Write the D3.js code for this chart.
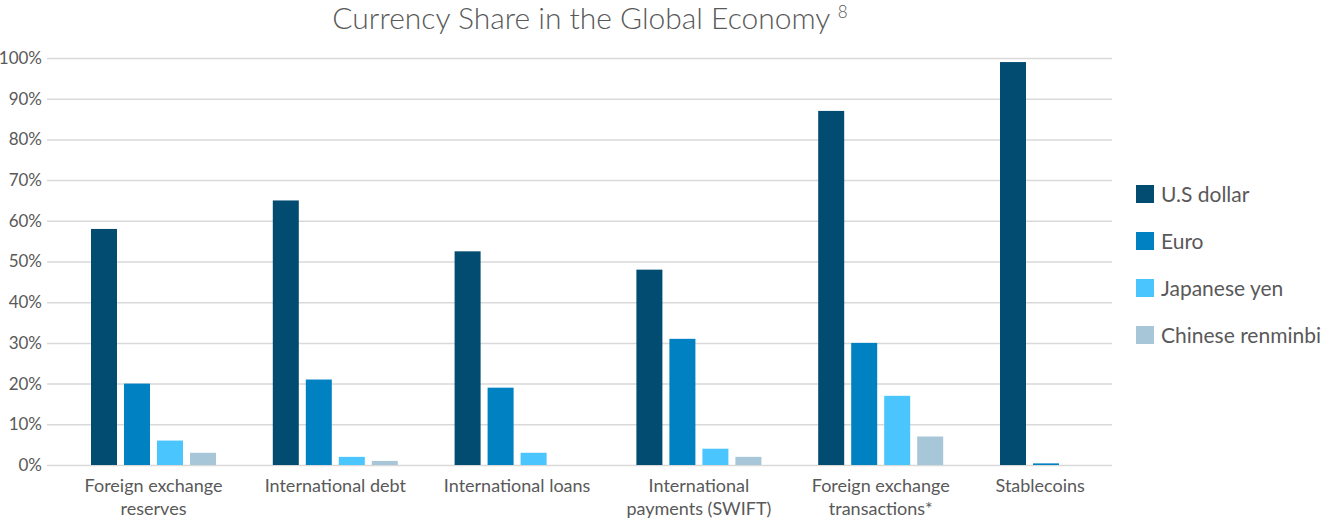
<!DOCTYPE html>
<html>
<head>
<meta charset="utf-8">
<script src="https://cdn.jsdelivr.net/npm/d3@7"></script>
<style>
  body { margin: 0; background: #fff; }
  svg text { font-family: Lato, "Open Sans", sans-serif; fill: #595959; }
</style>
</head>
<body>
<svg width="1329" height="519"></svg>
<script>
// --- données ---
const categories = [
  ["Foreign exchange", "reserves"],
  ["International debt"],
  ["International loans"],
  ["International", "payments (SWIFT)"],
  ["Foreign exchange", "transactions*"],
  ["Stablecoins"]
];
const series = ["U.S dollar", "Euro", "Japanese yen", "Chinese renminbi"];
const usDollar = [58, 65, 52.5, 48, 87, 99];
const euro = [20, 21, 19, 31, 30, 0.4];
const yen = [6, 2, 3, 4, 17, 0];
const renminbi = [3, 1, 0, 2, 7, 0];
const yTicks = [0, 10, 20, 30, 40, 50, 60, 70, 80, 90, 100];
const colors = ["#024c72", "#0082c2", "#4ac5fe", "#a7c6d7"];

const values = [usDollar, euro, yen, renminbi];

/*----------- Dimensions -----------*/
const gridLeft = 47, gridRight = 1112;
const plotTop = 58, plotBottom = 465;
const bandLeft = 62.6, bandStep = 181.8;

const svg = d3.select("svg");

const catNames = categories.map((c) => c.join(" "));
const x0 = d3.scaleBand().domain(catNames)
  .range([bandLeft, bandLeft + bandStep * catNames.length]);
const x1 = d3.scaleBand().domain(series).range([0, 125]).paddingInner(7 / 33);
const groupOffset = (x0.bandwidth() - 125) / 2;
const y = d3.scaleLinear().domain([0, 100]).range([plotBottom, plotTop]);

// titre
const title = svg.append("text")
  .attr("x", 590).attr("y", 29)
  .attr("text-anchor", "middle")
  .style("font-size", "30px")
  .style("font-weight", 300);
title.append("tspan").text("Currency Share in the Global Economy ");
title.append("tspan").text("8").style("font-size", "17px").attr("dy", -11);

// grille + axe y
const yAxis = d3.axisLeft(y).tickValues(yTicks)
  .tickSize(-(gridRight - gridLeft))
  .tickFormat((d) => d + "%");
const gy = svg.append("g").attr("transform", "translate(" + gridLeft + ",0)").call(yAxis);
gy.select(".domain").remove();
gy.selectAll(".tick line").attr("stroke", "#d9d9d9").attr("stroke-width", 1.5);
gy.selectAll(".tick text").style("font-size", "17px").attr("fill", "#595959").attr("x", -5);

// barres
const rows = catNames.map((name, i) => ({
  name: name,
  vals: series.map((s, j) => ({ s: s, v: values[j][i], c: colors[j] }))
}));

const groups = svg.selectAll(".grp").data(rows).enter().append("g")
  .attr("transform", (d) => "translate(" + (x0(d.name) + groupOffset) + ",0)");

groups.selectAll("rect")
  .data((d) => d.vals.filter((v) => v.v > 0))
  .enter().append("rect")
  .attr("x", (d) => x1(d.s))
  .attr("width", x1.bandwidth())
  .attr("y", (d) => y(d.v))
  .attr("height", (d) => y(0) - y(d.v))
  .attr("fill", (d) => d.c);

// libellés des catégories (gardés à l'intérieur de la grille)
const labels = svg.selectAll(".cat").data(categories).enter().append("text")
  .attr("text-anchor", "middle")
  .style("font-size", "18px")
  .attr("transform", (d, i) => "translate(" + (x0(catNames[i]) + x0.bandwidth() / 2) + ",492)");
labels.selectAll("tspan").data((d) => d).enter().append("tspan")
  .attr("x", 0)
  .attr("dy", (d, i) => (i === 0 ? 0 : 23))
  .text((d) => d);
labels.each(function (d, i) {
  const w = this.getBBox().width;
  const cx = Math.min(x0(catNames[i]) + x0.bandwidth() / 2, gridRight - w / 2 - 27);
  d3.select(this).attr("transform", "translate(" + cx + ",492)");
});

// légende
const leg = svg.selectAll(".leg").data(series).enter().append("g")
  .attr("transform", (d, i) => "translate(1136," + (194 + i * 47) + ")");
leg.append("rect").attr("x", 0).attr("y", -9).attr("width", 18).attr("height", 18)
  .attr("fill", (d, i) => colors[i]);
leg.append("text").attr("x", 25).attr("y", 8)
  .style("font-size", "21px")
  .text((d) => d);
</script>
</body>
</html>
